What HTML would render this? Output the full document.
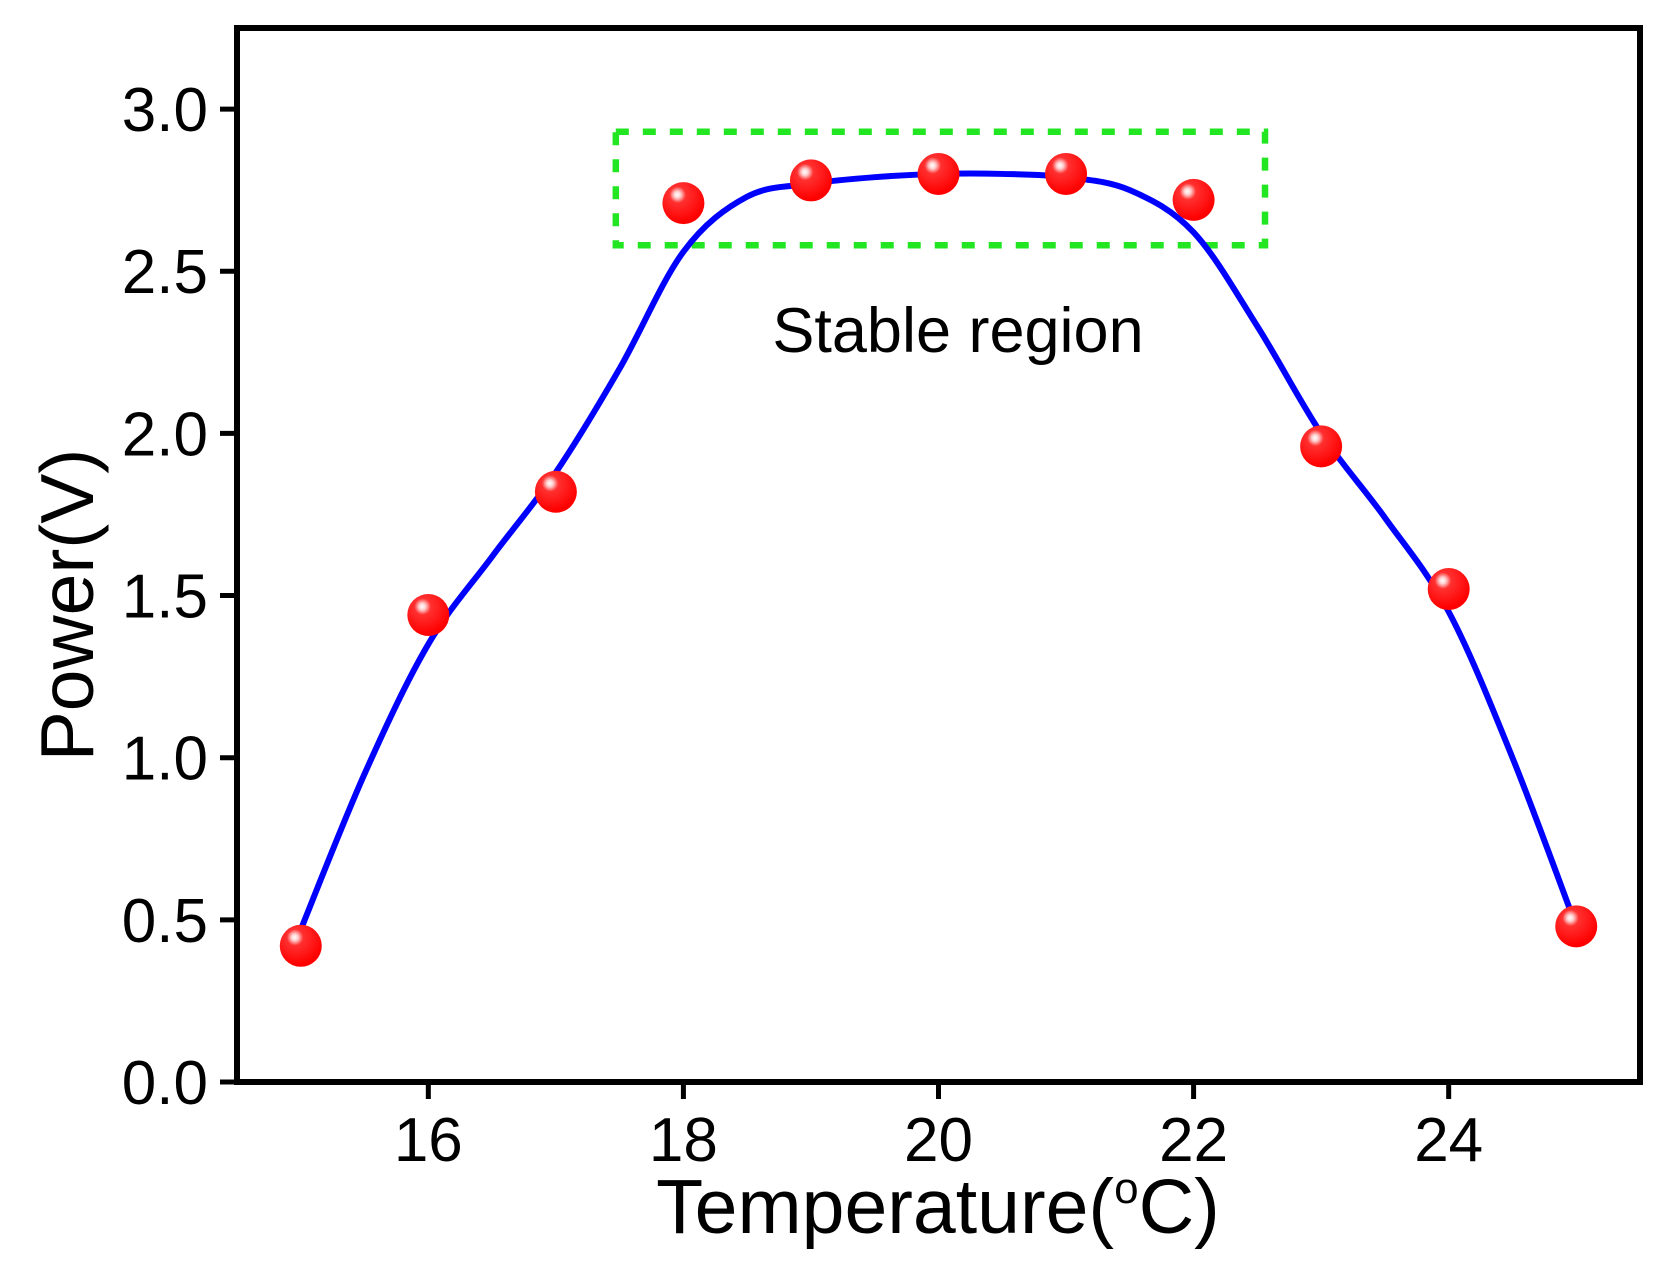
<!DOCTYPE html>
<html><head><meta charset="utf-8"><style>
html,body{margin:0;padding:0;background:#fff;}
svg{display:block;font-family:"Liberation Sans",Arial,sans-serif;}
</style></head><body>
<svg id="chart" width="1672" height="1272" viewBox="0 0 1672 1272" xmlns="http://www.w3.org/2000/svg">
<defs>
<radialGradient id="ball" cx="0.4" cy="0.3" r="0.65" fx="0.35" fy="0.3">
<stop offset="0" stop-color="#ffffff"/>
<stop offset="0.12" stop-color="#ffd0d0"/>
<stop offset="0.3" stop-color="#ff3030"/>
<stop offset="1" stop-color="#ff0000"/>
</radialGradient>
</defs>
<g id="plot"></g>
</svg>
<script>
const temps = [15,16,17,18,19,20,21,22,23,24,25];
const power = [0.42,1.44,1.82,2.71,2.78,2.80,2.80,2.72,1.96,1.52,0.48];
const fitTemps = [15,15.5,16,16.5,17,17.5,18,18.5,19,19.5,20,20.5,21,21.5,22,22.5,23,23.5,24,24.5,25];
const fitPower = [0.47,0.95,1.35,1.62,1.88,2.2,2.56,2.73,2.77,2.79,2.80,2.80,2.79,2.75,2.62,2.33,2.0,1.74,1.45,1.0,0.48];
const xTicks = [16,18,20,22,24];
const yTicks = [0.0,0.5,1.0,1.5,2.0,2.5,3.0];
const yTickLabels = ["0.0","0.5","1.0","1.5","2.0","2.5","3.0"];
const regionX = [17.47,22.56];
const regionY = [2.58,2.93];

const L=237,R=1640,T=28,B=1082;
const xMin=14.5,xMax=25.5,yMin=0,yMax=3.25;
const sx=v=>L+(v-xMin)/(xMax-xMin)*(R-L);
const sy=v=>B-(v-yMin)/(yMax-yMin)*(B-T);
const NS="http://www.w3.org/2000/svg";
const g=document.getElementById('plot');
function mk(tag,attrs,parent){const e=document.createElementNS(NS,tag);for(const k in attrs)e.setAttribute(k,attrs[k]);(parent||g).appendChild(e);return e;}

const rb=mk('rect',{x:sx(regionX[0]),y:sy(regionY[1]),width:sx(regionX[1])-sx(regionX[0]),height:sy(regionY[0])-sy(regionY[1]),fill:'none',stroke:'#22e622','stroke-width':6.5,'stroke-dasharray':'13 14'});



const pts=fitTemps.map((t,i)=>[sx(t),sy(fitPower[i])]);
let d='M'+pts[0][0]+','+pts[0][1];
for(let i=0;i<pts.length-1;i++){const p0=pts[Math.max(0,i-1)],p1=pts[i],p2=pts[i+1],p3=pts[Math.min(pts.length-1,i+2)];
d+=' C'+(p1[0]+(p2[0]-p0[0])/6)+','+(p1[1]+(p2[1]-p0[1])/6)+' '+(p2[0]-(p3[0]-p1[0])/6)+','+(p2[1]-(p3[1]-p1[1])/6)+' '+p2[0]+','+p2[1];}
const fc=mk('path',{d:d,fill:'none',stroke:'#0000ff','stroke-width':6,'stroke-linejoin':'round'});



temps.forEach((t,i)=>{const c=mk('circle',{cx:sx(t),cy:sy(power[i]),r:21,fill:'url(#ball)'});

});

const fr=mk('rect',{x:L,y:T,width:R-L,height:B-T,fill:'none',stroke:'#000','stroke-width':6});



yTicks.forEach((v,i)=>{mk('line',{x1:L-17,x2:L,y1:sy(v),y2:sy(v),stroke:'#000','stroke-width':5});
const tx=mk('text',{x:208,y:sy(v)+22,'text-anchor':'end','font-size':62,fill:'#000'});tx.textContent=yTickLabels[i];

});
xTicks.forEach(v=>{mk('line',{x1:sx(v),x2:sx(v),y1:B,y2:B+17,stroke:'#000','stroke-width':5});
const tx=mk('text',{x:sx(v),y:1161,'text-anchor':'middle','font-size':62,fill:'#000'});tx.textContent=v;

});

const st=mk('text',{x:958,y:352,'text-anchor':'middle','font-size':63,fill:'#000'});st.textContent='Stable region';



const xt=mk('text',{x:938,y:1233,'text-anchor':'middle','font-size':77,fill:'#000'});
xt.innerHTML='Temperature(<tspan font-size="44" dy="-30">o</tspan><tspan dy="30">C)</tspan>';



const yt=mk('text',{x:0,y:0,'text-anchor':'middle','font-size':75,fill:'#000',transform:'translate(93,605) rotate(-90)'});yt.textContent='Power(V)';


</script>
</body></html>
